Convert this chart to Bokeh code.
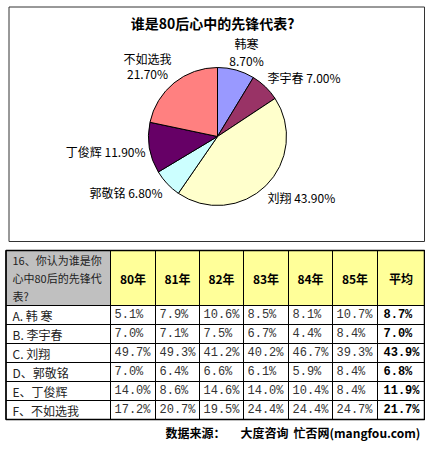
from bokeh.plotting import figure
from bokeh.models import Range1d, ColumnDataSource
from bokeh.core.properties import value
from bokeh.embed import file_html
from bokeh.resources import INLINE
import math

# ---------------- data ----------------
title = "谁是80后心中的先锋代表?"
pie_names = ["韩寒", "李宇春", "刘翔", "郭敬铭", "丁俊辉", "不如选我"]
pie_values = [8.7, 7.0, 43.9, 6.8, 11.9, 21.7]
pie_colors = ["#9999FF", "#993366", "#FFFFCC", "#CCFFFF", "#660066", "#FF8080"]

question_lines = ["16、你认为谁是你", "心中80后的先锋代", "表?"]
col_labels = ["80年", "81年", "82年", "83年", "84年", "85年", "平均"]
row_labels = ["A. 韩  寒", "B. 李宇春", "C. 刘翔", "D、郭敬铭", "E、丁俊辉", "F、不如选我"]
v80 = [5.1, 7.0, 49.7, 7.0, 14.0, 17.2]
v81 = [7.9, 7.1, 49.3, 6.4, 8.6, 20.7]
v82 = [10.6, 7.5, 41.2, 6.6, 14.6, 19.5]
v83 = [8.5, 6.7, 40.2, 6.1, 14.0, 24.4]
v84 = [8.1, 4.4, 46.7, 5.9, 10.4, 24.4]
v85 = [10.7, 8.4, 39.3, 8.4, 8.4, 24.7]
avg = [8.7, 7.0, 43.9, 6.8, 11.9, 21.7]
source_parts = ["数据来源：", "大度咨询", "忙否网(mangfou.com)"]

FONT = value("Noto Sans CJK SC")

W, H = 425, 442
def Y(py):
    return 450 - py

p = figure(width=W, height=H, x_range=Range1d(0, 425), y_range=Range1d(8, 450),
           output_backend="svg", toolbar_location=None,
           x_axis_type=None, y_axis_type=None, min_border=0)
p.grid.visible = False
p.outline_line_color = None
p.background_fill_color = "white"

# ---------------- pie box ----------------
p.quad(left=[8.5], right=[424], top=[Y(6.5)], bottom=[Y(241)],
       fill_color=None, line_color="#333333", line_width=1)

p.text(x=[212], y=[Y(22)], text=[title], text_font=FONT, text_font_size="14px",
       text_font_style="bold", text_align="center", text_baseline="middle", text_color="black")

# wedges
cum = [0.0]
for v in pie_values:
    cum.append(cum[-1] + v)
total = cum[-1]
starts = [math.pi / 2 - 2 * math.pi * cum[i] / total for i in range(len(pie_values))]
ends = [math.pi / 2 - 2 * math.pi * cum[i + 1] / total for i in range(len(pie_values))]
cx, cy, r = 217, Y(136), 69
p.wedge(x=cx, y=cy, radius=r, radius_units="screen",
        start_angle=starts, end_angle=ends, direction="clock",
        fill_color=pie_colors, line_color="black", line_width=1)

# pie labels
pct = ["%.2f%%" % v for v in pie_values]
lab_src = ColumnDataSource(dict(
    x=[267, 267, 162, 145],
    y=[Y(77), Y(197), Y(192), Y(151)],
    t=[f"{pie_names[1]} {pct[1]}", f"{pie_names[2]} {pct[2]}",
       f"{pie_names[3]} {pct[3]}", f"{pie_names[4]} {pct[4]}"],
    a=["left", "left", "right", "right"]))
p.text(x="x", y="y", text="t", text_align="a", source=lab_src, text_font=FONT,
       text_font_size="12px", text_baseline="middle", text_color="black")
two_src = ColumnDataSource(dict(
    x=[246, 246, 147, 147],
    y=[Y(43), Y(60), Y(58), Y(73)],
    t=[pie_names[0], pct[0], pie_names[5], pct[5]]))
p.text(x="x", y="y", text="t", source=two_src, text_font=FONT, text_font_size="12px",
       text_align="center", text_baseline="middle", text_color="black")

# ---------------- table ----------------
col_edges = [5.5, 110, 155, 199, 243, 288, 332, 377, 424]
top, head_bot, bot = 250, 305, 419
nrows = len(row_labels)
rh = (bot - head_bot) / nrows
row_edges = [head_bot + i * rh for i in range(nrows + 1)]

# header fills
hl, hr, hc = [], [], []
for j in range(len(col_edges) - 1):
    hl.append(col_edges[j]); hr.append(col_edges[j + 1])
    hc.append("#C0C0C0" if j == 0 else "#FFFF99")
p.quad(left=hl, right=hr, top=[Y(top)] * len(hl), bottom=[Y(head_bot)] * len(hl),
       fill_color=hc, line_color=None)

# grid lines
xs, ys = [], []
for x in col_edges:
    xs.append([x, x]); ys.append([Y(top), Y(bot)])
for y in [top] + row_edges:
    xs.append([col_edges[0], col_edges[-1]]); ys.append([Y(y), Y(y)])
p.multi_line(xs=xs, ys=ys, line_color="black", line_width=1)
p.quad(left=[col_edges[0]], right=[col_edges[-1]], top=[Y(top)], bottom=[Y(bot)],
       fill_color=None, line_color="black", line_width=1.5)

# header texts
hy = (top + head_bot) / 2
p.text(x=[12] * 3, y=[Y(hy - 18), Y(hy), Y(hy + 18)], text=question_lines, text_font=FONT,
       text_font_size="11px", text_baseline="middle", text_color="#222222")
hx = [(col_edges[j] + col_edges[j + 1]) / 2 for j in range(1, len(col_edges) - 1)]
p.text(x=hx, y=[Y(hy)] * len(hx), text=col_labels, text_font=FONT,
       text_font_size="12px", text_font_style="bold", text_align="center",
       text_baseline="middle", text_color="black")

# row labels
rc = [Y((row_edges[i] + row_edges[i + 1]) / 2) for i in range(nrows)]
p.text(x=[12] * nrows, y=rc, text=row_labels, text_font=FONT, text_font_size="12px",
       text_baseline="middle", text_color="#222222")

# values
series = [v80, v81, v82, v83, v84, v85]
vx, vy, vt = [], [], []
for j, s in enumerate(series):
    for i, v in enumerate(s):
        vx.append(col_edges[j + 1] + 4); vy.append(rc[i]); vt.append("%.1f%%" % v)
p.text(x=vx, y=vy, text=vt, text_font=value("Liberation Mono"), text_font_size="12px",
       text_baseline="middle", text_color="#333333")
p.text(x=[col_edges[7] + 6] * nrows, y=rc, text=["%.1f%%" % v for v in avg],
       text_font=value("Liberation Mono"), text_font_size="12px", text_font_style="bold",
       text_baseline="middle", text_color="black")

# source
p.text(x=[165, 240, 293], y=[Y(432)] * 3, text=source_parts, text_font=FONT,
       text_font_size="12px", text_font_style="bold", text_baseline="middle",
       text_color="black")

open("out.html", "w").write(file_html(p, INLINE))
